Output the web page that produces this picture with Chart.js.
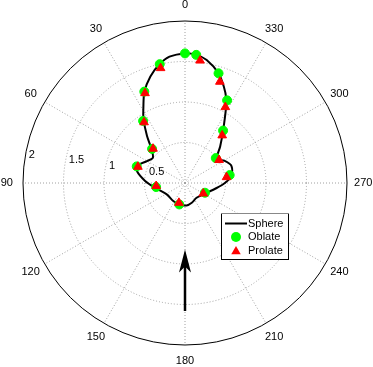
<!DOCTYPE html>
<html>
<head>
<meta charset="utf-8">
<script src="https://cdn.jsdelivr.net/npm/chart.js@4/dist/chart.umd.min.js"></script>
<style>
  html, body { margin: 0; padding: 0; background: #fff; }
  #wrap { width: 373px; height: 367px; position: relative; }
</style>
</head>
<body>
<div id="wrap"><canvas id="polar"></canvas></div>
<script>
// angles are degrees, counter-clockwise from the top (0 up, 90 left)
const sphereAngles = [0, 7, 12, 18, 24, 29, 33, 39, 45, 52, 60, 70, 76, 87, 99, 122, 147, 165, 184, 199, 218, 238, 261, 270, 278, 290, 299, 307, 316, 324, 331, 334, 338, 343, 350, 355];
const sphereR = [1.60, 1.571, 1.502, 1.383, 1.232, 1.06, 0.94, 0.745, 0.581, 0.504, 0.542, 0.625, 0.612, 0.493, 0.374, 0.266, 0.266, 0.274, 0.278, 0.257, 0.232, 0.266, 0.395, 0.492, 0.572, 0.611, 0.561, 0.491, 0.625, 0.80, 1.04, 1.16, 1.281, 1.417, 1.543, 1.588];

const oblateAngles = [0, 12, 24, 34, 44, 71, 98, 165, 244, 280, 309, 324, 333, 343, 355];
const oblateR = [1.60, 1.50, 1.235, 0.925, 0.585, 0.63, 0.36, 0.274, 0.274, 0.56, 0.489, 0.80, 1.145, 1.416, 1.588];

const prolateAngles = [12, 24, 34, 43, 71, 96, 163, 240, 278, 304, 322, 332, 341, 353];
const prolateR = [1.45, 1.214, 0.904, 0.579, 0.615, 0.358, 0.256, 0.26, 0.518, 0.507, 0.746, 1.061, 1.322, 1.523];

const rTicks = [0.5, 1, 1.5, 2];
const thetaTicks = [0, 30, 60, 90, 120, 150, 180, 210, 240, 270, 300, 330];

const FONT = "11px 'Liberation Sans', Arial, Helvetica, sans-serif";
const N = 360;
// radar goes clockwise, so index i sits at angle (360 - i)
const labels = Array.from({length: N}, (_, i) => String((N - i) % N));
const idx = a => (N - Math.round(a)) % N;

function onGrid(angles, values) {
  const out = new Array(N).fill(null);
  angles.forEach((a, k) => { out[idx(a)] = values[k]; });
  return out;
}

const polarDecor = {
  id: 'polarDecor',
  afterDraw(chart) {
    const ctx = chart.ctx;
    const s = chart.scales.r;
    ctx.save();
    ctx.font = FONT;
    ctx.fillStyle = '#000';

    // angle labels
    ctx.textAlign = 'center';
    ctx.textBaseline = 'middle';
    thetaTicks.forEach(t => {
      const p = s.getPointPositionForValue(idx(t), s.max * 1.1);
      ctx.fillText(String(t), p.x, p.y);
    });

    // radius labels along the 82 degree ray
    ctx.textAlign = 'left';
    ctx.textBaseline = 'bottom';
    rTicks.forEach(v => {
      const p = s.getPointPositionForValue(idx(82), v + 0.025);
      ctx.fillText('  ' + v, p.x, p.y);
    });

    // arrow pointing to the center from below
    const tail = s.getPointPositionForValue(idx(180), 1.58);
    const tip = s.getPointPositionForValue(idx(180), 0.82);
    ctx.strokeStyle = '#000';
    ctx.lineWidth = 2.5;
    ctx.beginPath();
    ctx.moveTo(tail.x, tail.y);
    ctx.lineTo(tip.x, tip.y + 10);
    ctx.stroke();
    ctx.beginPath();
    ctx.moveTo(tip.x, tip.y);
    ctx.lineTo(tip.x - 6, tip.y + 23);
    ctx.lineTo(tip.x, tip.y + 17);
    ctx.lineTo(tip.x + 6, tip.y + 23);
    ctx.closePath();
    ctx.fillStyle = '#000';
    ctx.fill();

    // legend
    const lx = 221, ly = 213, lw = 67, lh = 46;
    ctx.fillStyle = '#fff';
    ctx.fillRect(lx, ly, lw, lh);
    ctx.strokeStyle = '#000';
    ctx.lineWidth = 1;
    ctx.strokeRect(lx + 0.5, ly + 0.5, lw, lh);
    ctx.strokeStyle = '#888';
    ctx.beginPath();
    ctx.moveTo(lx, ly + 0.5);
    ctx.lineTo(lx + lw + 1, ly + 0.5);
    ctx.stroke();

    const rows = [ly + 10.5, ly + 24, ly + 37.5];
    ctx.strokeStyle = '#000';
    ctx.lineWidth = 2;
    ctx.beginPath();
    ctx.moveTo(lx + 4, rows[0]);
    ctx.lineTo(lx + 26, rows[0]);
    ctx.stroke();

    ctx.fillStyle = '#00ff00';
    ctx.beginPath();
    ctx.arc(lx + 15, rows[1], 5, 0, Math.PI * 2);
    ctx.fill();

    ctx.fillStyle = '#ff0000';
    ctx.beginPath();
    const tr = 5.5, cy = rows[2] + 1;
    ctx.moveTo(lx + 15, cy - tr);
    ctx.lineTo(lx + 15 + tr * Math.sin(2 * Math.PI / 3), cy + tr / 2);
    ctx.lineTo(lx + 15 - tr * Math.sin(2 * Math.PI / 3), cy + tr / 2);
    ctx.closePath();
    ctx.fill();

    ctx.fillStyle = '#000';
    ctx.textAlign = 'left';
    ctx.textBaseline = 'middle';
    ctx.fillText('Sphere', lx + 27, rows[0]);
    ctx.fillText('Oblate', lx + 27, rows[1]);
    ctx.fillText('Prolate', lx + 27, rows[2]);
    ctx.restore();
  }
};

new Chart(document.getElementById('polar'), {
  type: 'radar',
  data: {
    labels: labels,
    datasets: [
      {
        label: 'Prolate',
        data: onGrid(prolateAngles, prolateR),
        showLine: false,
        pointStyle: 'triangle',
        pointRadius: 5,
        pointBorderWidth: 1,
        pointBackgroundColor: '#ff0000',
        pointBorderColor: '#ff0000',
        order: 0
      },
      {
        label: 'Oblate',
        data: onGrid(oblateAngles, oblateR),
        showLine: false,
        pointStyle: 'circle',
        pointRadius: 4.5,
        pointBorderWidth: 1,
        pointBackgroundColor: '#00ff00',
        pointBorderColor: '#00ff00',
        order: 1
      },
      {
        label: 'Sphere',
        data: onGrid(sphereAngles, sphereR),
        borderColor: '#000',
        borderWidth: 2,
        fill: false,
        tension: 0.3,
        spanGaps: true,
        pointRadius: 0,
        order: 2
      }
    ]
  },
  options: {
    responsive: true,
    maintainAspectRatio: false,
    animation: false,
    events: [],
    layout: { padding: { left: 23, right: 25, top: 21, bottom: 21 } },
    plugins: {
      legend: { display: false },
      tooltip: { enabled: false }
    },
    scales: {
      r: {
        min: 0,
        max: 2,
        ticks: { display: false, stepSize: 0.5 },
        pointLabels: { display: false },
        grid: {
          circular: true,
          color: c => c.tick && c.tick.value === 2 ? '#000' : '#a0a0a0',
          lineWidth: 1
        },
        border: {
          dash: c => c.tick && c.tick.value === 2 ? [] : [1, 2]
        },
        angleLines: {
          color: '#a0a0a0',
          lineWidth: c => c.index % 30 === 0 ? 1 : 0,
          borderDash: [1, 2]
        }
      }
    }
  },
  plugins: [polarDecor]
});
</script>
</body>
</html>
